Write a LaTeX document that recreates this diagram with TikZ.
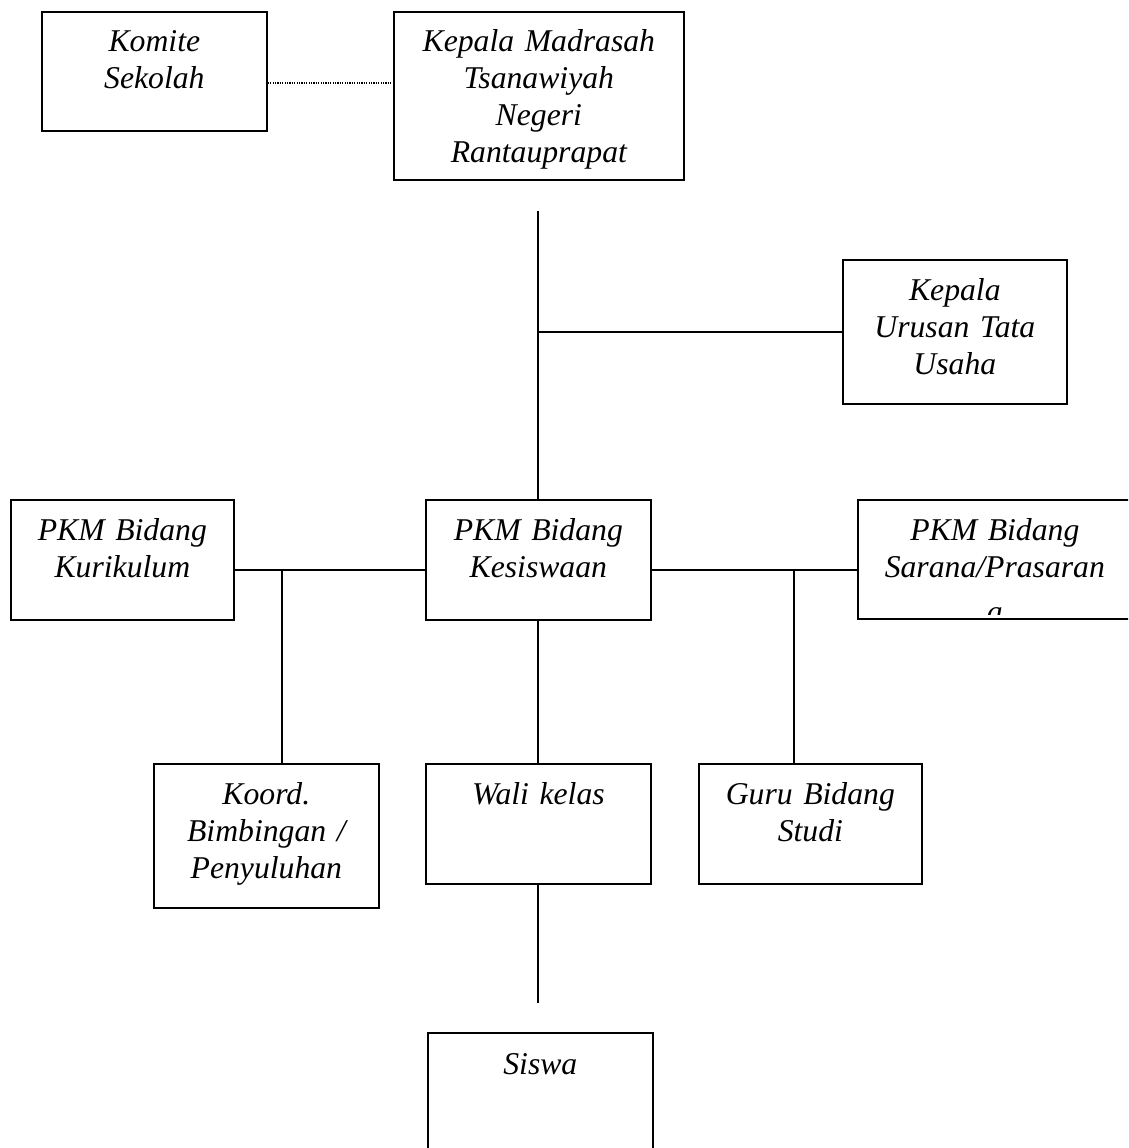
\documentclass[tikz,border=0pt]{standalone}
\usepackage{fontspec}
\setmainfont{Liberation Serif}
\begin{document}
\begin{tikzpicture}[x=1pt,y=-1pt,
  box/.style={draw, line width=1.7pt, rectangle, inner sep=0pt, anchor=north west},
  lbl/.style={anchor=base, inner sep=0pt, text width=320pt, align=center,
              font=\fontsize{31.7}{37}\selectfont\itshape},
  conn/.style={line width=1.5pt},
  dotline/.style={line width=1.3pt, dash pattern=on 1.2pt off 1.2pt}]
\path[use as bounding box] (0,0) rectangle (1128,1148);
\clip (0,0) rectangle (1128,1148);
% boxes
\node[box, minimum width=225pt, minimum height=119pt] (kom) at (41,11) {};
\node[box, minimum width=290pt, minimum height=168pt] (kep) at (393,11) {};
\node[box, minimum width=224pt, minimum height=144pt] (tu) at (842,259) {};
\node[box, minimum width=223pt, minimum height=120pt] (kur) at (10,499) {};
\node[box, minimum width=225pt, minimum height=120pt] (kes) at (425,499) {};
\node[box, minimum width=274pt, minimum height=119pt] (sar) at (857,499) {};
\node[box, minimum width=225pt, minimum height=144pt] (koo) at (153,763) {};
\node[box, minimum width=225pt, minimum height=120pt] (wal) at (425,763) {};
\node[box, minimum width=223pt, minimum height=120pt] (gur) at (698,763) {};
\node[box, minimum width=225pt, minimum height=150pt] (sis) at (427,1032) {};
% labels
\node[lbl] (komt) at ([yshift=-41pt]kom.north) {Komite\\Sekolah};
\node[lbl] (kept) at ([yshift=-41pt]kep.north) {Kepala Madrasah\\Tsanawiyah\\Negeri\\Rantauprapat};
\node[lbl] (tut) at ([yshift=-41pt]tu.north) {Kepala\\Urusan Tata\\Usaha};
\node[lbl] (kurt) at ([yshift=-41pt]kur.north) {PKM Bidang\\Kurikulum};
\node[lbl] (kest) at ([yshift=-41pt]kes.north) {PKM Bidang\\Kesiswaan};
\begin{scope}
  \clip (sar.north west) rectangle ([yshift=5pt]sar.south east);
  \node[lbl] (sart) at ([yshift=-41pt]sar.north) {PKM Bidang\\Sarana/Prasaran\\[8pt]a};
\end{scope}
\node[lbl] (koot) at ([yshift=-41pt]koo.north) {Koord.\\Bimbingan /\\Penyuluhan};
\node[lbl] (walt) at ([yshift=-41pt]wal.north) {Wali kelas};
\node[lbl] (gurt) at ([yshift=-41pt]gur.north) {Guru Bidang\\Studi};
\node[lbl] (sist) at ([yshift=-42pt]sis.north) {Siswa};
% connectors
\coordinate (dl) at (330,83);
\draw[dotline] (kom.east |- dl) -- (kep.west |- dl);
\coordinate (ktop) at (538,211);
\draw[conn] (ktop) -- (ktop |- kes.north);
\draw[conn] (ktop |- tu.west) -- (tu.west);
\coordinate (jl) at (282,570);
\coordinate (jr) at (794,570);
\draw[conn] (kur.east |- jl) -- (kes.west |- jl);
\draw[conn] (kes.east |- jr) -- (sar.west |- jr);
\draw[conn] (jl) -- (jl |- koo.north);
\draw[conn] (jr) -- (jr |- gur.north);
\draw[conn] (ktop |- kes.south) -- (ktop |- wal.north);
\coordinate (send) at (538,1003);
\draw[conn] (send |- wal.south) -- (send);
\end{tikzpicture}
\end{document}
